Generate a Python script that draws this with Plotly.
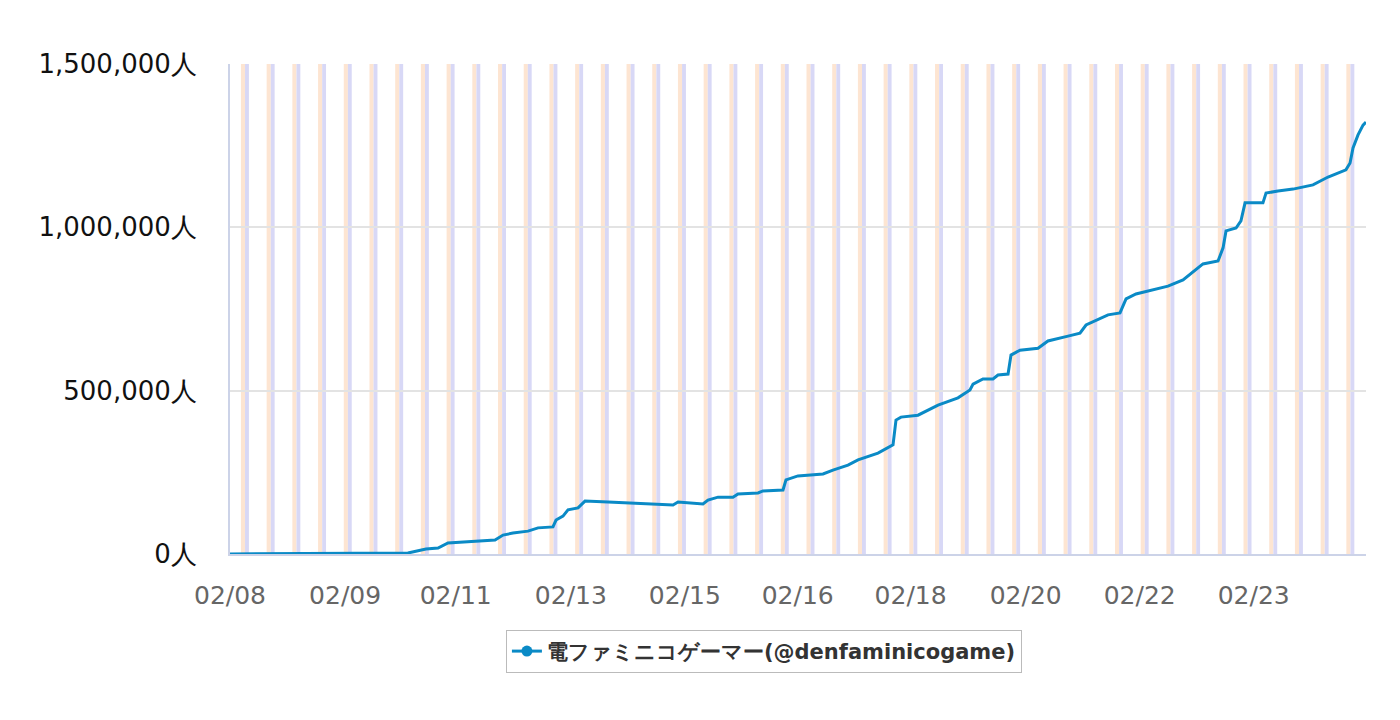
import plotly.graph_objects as go

tick_pos = [0, 1.01, 1.98, 2.99, 3.99, 4.98, 5.97, 6.98, 7.98, 8.98]
tick_labels = ["02/08", "02/09", "02/11", "02/13", "02/15", "02/16", "02/18", "02/20", "02/22", "02/23"]

px_x = [222,400,418,430,440,455,470,487,495,505,520,530,545,548,555,560,570,577,600,640,665,670,695,700,710,725,730,750,755,775,778,790,800,815,825,840,850,870,885,888,893,910,930,950,962,965,975,985,990,1000,1003,1012,1030,1040,1060,1072,1078,1090,1100,1112,1118,1128,1145,1160,1175,1185,1195,1210,1215,1218,1228,1233,1237,1255,1258,1270,1285,1305,1320,1338,1342,1345,1350,1355,1358]
x_vals = [round((p - 222) / 114, 3) for p in px_x]
followers = [0,3000,15000,18000,34000,37000,40000,43000,58000,64000,70000,80000,83000,104000,116000,135000,141000,162000,159000,153000,150000,159000,153000,165000,174000,174000,184000,187000,193000,196000,227000,239000,242000,245000,257000,272000,288000,309000,334000,410000,419000,425000,456000,478000,502000,520000,536000,536000,548000,551000,609000,624000,630000,652000,667000,676000,701000,719000,732000,738000,781000,796000,808000,820000,839000,863000,888000,897000,937000,989000,998000,1020000,1075000,1075000,1105000,1111000,1117000,1130000,1154000,1176000,1197000,1243000,1283000,1313000,1322000]

series_name = "電ファミニコゲーマー(@denfaminicogame)"
x_max = (1358 - 222) / 114
stripe_start = 0.114
stripe_step = 0.2255
n_stripes = 44

shapes = []
for i in range(n_stripes):
    s = stripe_start + i * stripe_step
    shapes.append(dict(type="rect", xref="x", yref="paper", x0=s - 0.018, x1=s + 0.018, y0=0, y1=1,
                       fillcolor="#fde5d2", line_width=0, layer="below"))
    shapes.append(dict(type="rect", xref="x", yref="paper", x0=s + 0.018, x1=s + 0.052, y0=0, y1=1,
                       fillcolor="#d8d8f6", line_width=0, layer="below"))

fig = go.Figure()
fig.add_trace(go.Scatter(x=x_vals, y=followers, mode="lines", line=dict(color="#0a8ac6", width=3),
                         showlegend=False))
fig.add_trace(go.Scatter(x=[None], y=[None], mode="lines+markers", line=dict(color="#0a8ac6", width=3),
                         marker=dict(size=11, color="#0a8ac6"), name="<b>" + series_name + "</b>"))
fig.update_layout(
    width=1400, height=720, plot_bgcolor="white", paper_bgcolor="white",
    margin=dict(l=222, r=42, t=56, b=174, autoexpand=False),
    font=dict(family="DejaVu Sans", size=26, color="#222"),
    shapes=shapes,
    legend=dict(orientation="h", x=0.47, xanchor="center", y=-0.155, yanchor="top",
                bordercolor="#bbb", borderwidth=1, font=dict(size=21, color="#333", family="DejaVu Sans"),
                itemwidth=30),
)
fig.update_xaxes(range=[0, x_max], tickvals=tick_pos, ticktext=tick_labels, showgrid=False,
                 tickfont=dict(color="#666", size=25), showline=True, linecolor="#ccd3e8", linewidth=2,
                 ticks="", zeroline=False, ticklabelstandoff=18, automargin=False)
fig.update_yaxes(range=[0, 1500000], tickvals=[0, 500000, 1000000, 1500000],
                 ticktext=["0人", "500,000人", "1,000,000人", "1,500,000人"],
                 gridcolor="#e3e3e3", gridwidth=2, showline=True, linecolor="#ccd3e8", linewidth=2,
                 zeroline=False, tickfont=dict(color="#111", size=26), ticklabelstandoff=26, automargin=False)
fig.write_html("out.html")
